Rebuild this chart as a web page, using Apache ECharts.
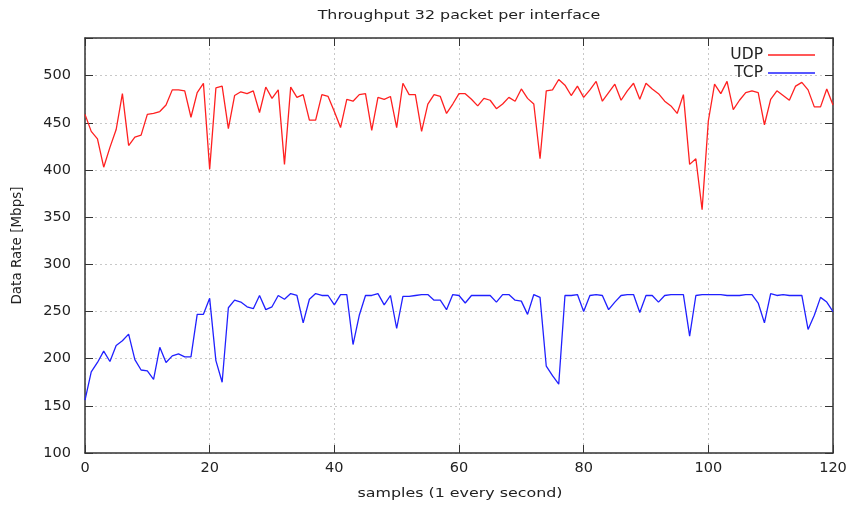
<!DOCTYPE html>
<html>
<head>
<meta charset="utf-8">
<script src="https://cdn.jsdelivr.net/npm/echarts@6/dist/echarts.min.js"></script>
<style>html,body{margin:0;padding:0;background:#fff}#c{width:850px;height:505px}</style>
</head>
<body>
<div id="c"></div>
<script>
const titleText = 'Throughput 32 packet per interface';
const xName = 'samples (1 every second)';
const yName = 'Data Rate [Mbps]';
const seriesNames = ['UDP', 'TCP'];
const udp = [459,441,433,403,424,443,481,426,435,437,459,460,462,469,485,485,484,456,482,492,
  401,487,489,444,479,483,481,484,461,488,476,485,406,488,477,480,453,453,480,478,
  462,445,475,473,480,481,442,477,475,478,445,492,480,480,441,470,480,478,460,470,
  481,481,475,468,476,474,465,470,477,473,486,476,470,412,484,485,496,490,479,489,
  477,485,494,473,482,491,474,484,492,475,492,486,481,473,468,460,480,406,412,358,
  452,491,481,494,464,474,482,484,482,448,475,484,479,474,489,493,485,467,467,486,469];
const tcp = [156,186,196,208,197,214,219,226,199,188,187,178,212,196,203,205,202,202,247,247,
  264,198,175,254,262,260,255,253,267,252,255,267,263,269,267,238,263,269,267,267,
  257,268,268,215,246,267,267,269,257,267,232,266,266,267,268,268,262,262,252,268,
  267,259,267,267,267,267,260,268,268,262,261,247,268,265,192,182,173,267,267,268,
  250,267,268,267,252,260,267,268,268,249,267,267,260,267,268,268,268,224,267,268,
  268,268,268,267,267,267,268,268,259,238,269,267,268,267,267,267,231,246,265,260,250];
const xTicks = [0,20,40,60,80,100,120];
const yTicks = [100,150,200,250,300,350,400,450,500];

const toPairs = arr => arr.map((v, i) => [i, v]);
const font = 'DejaVu Sans';
const axisColor = '#333';
const textColor = '#222';
const gridLine = {show: true, lineStyle: {color: '#c8c8c8', width: 1, type: [2, 3]}};
const lineIcon = 'path://M0,0H47V1.5H0Z';

const chart = echarts.init(document.getElementById('c'), null, {renderer: 'canvas'});
chart.setOption({
  animation: false,
  backgroundColor: '#fff',
  graphic: [{
    type: 'text', x: 459, y: 16, scaleX: 1.22,
    style: {text: titleText, fill: textColor, font: '13px "DejaVu Sans"', textAlign: 'center', textVerticalAlign: 'middle'}
  }, {
    type: 'text', x: 460, y: 494, scaleX: 1.22,
    style: {text: xName, fill: textColor, font: '13px "DejaVu Sans"', textAlign: 'center', textVerticalAlign: 'middle'}
  }],
  legend: {
    orient: 'vertical', right: 30, top: 42, align: 'right',
    itemWidth: 47, itemHeight: 1.5, itemGap: 2,
    textStyle: {fontFamily: font, fontSize: 15.5, color: textColor},
    data: [{name: seriesNames[0], icon: lineIcon}, {name: seriesNames[1], icon: lineIcon}]
  },
  grid: {left: 85, right: 17, top: 38, bottom: 52, containLabel: false},
  xAxis: [{
    type: 'value', min: 0, max: 120, interval: 20, position: 'bottom',
    axisLine: {show: true, onZero: false, lineStyle: {color: axisColor, width: 1.5}},
    axisTick: {show: true, inside: true, length: 8, lineStyle: {color: axisColor}},
    axisLabel: {fontFamily: font, fontSize: 14.5, color: textColor, margin: 8,
      formatter: v => (xTicks.indexOf(v) >= 0 ? String(v) : '')},
    splitLine: gridLine
  }, {
    type: 'value', min: 0, max: 120, interval: 20, position: 'top',
    axisLine: {show: true, onZero: false, lineStyle: {color: axisColor, width: 1.5}},
    axisTick: {show: true, inside: true, length: 8, lineStyle: {color: axisColor}},
    axisLabel: {show: false}, splitLine: {show: false}
  }],
  yAxis: [{
    type: 'value', min: 100, max: 540, interval: 50, position: 'left',
    name: yName, nameLocation: 'middle', nameGap: 61, nameRotate: 90,
    nameTextStyle: {fontFamily: font, fontSize: 13.5, color: textColor},
    axisLine: {show: true, onZero: false, lineStyle: {color: axisColor, width: 1.5}},
    axisTick: {show: true, inside: true, length: 8, lineStyle: {color: axisColor}},
    axisLabel: {fontFamily: font, fontSize: 14.5, color: textColor, margin: 14,
      formatter: v => (yTicks.indexOf(v) >= 0 ? String(v) : '')},
    splitLine: gridLine
  }, {
    type: 'value', min: 100, max: 540, interval: 50, position: 'right',
    axisLine: {show: true, onZero: false, lineStyle: {color: axisColor, width: 1.5}},
    axisTick: {show: true, inside: true, length: 8, lineStyle: {color: axisColor}},
    axisLabel: {show: false}, splitLine: {show: false}
  }],
  series: [{
    name: seriesNames[0], type: 'line', data: toPairs(udp), symbol: 'none',
    lineStyle: {color: '#ff2020', width: 1.3}, itemStyle: {color: '#ff2020'}
  }, {
    name: seriesNames[1], type: 'line', data: toPairs(tcp), symbol: 'none',
    lineStyle: {color: '#2020ff', width: 1.3}, itemStyle: {color: '#2020ff'}
  }]
});
</script>
</body>
</html>
